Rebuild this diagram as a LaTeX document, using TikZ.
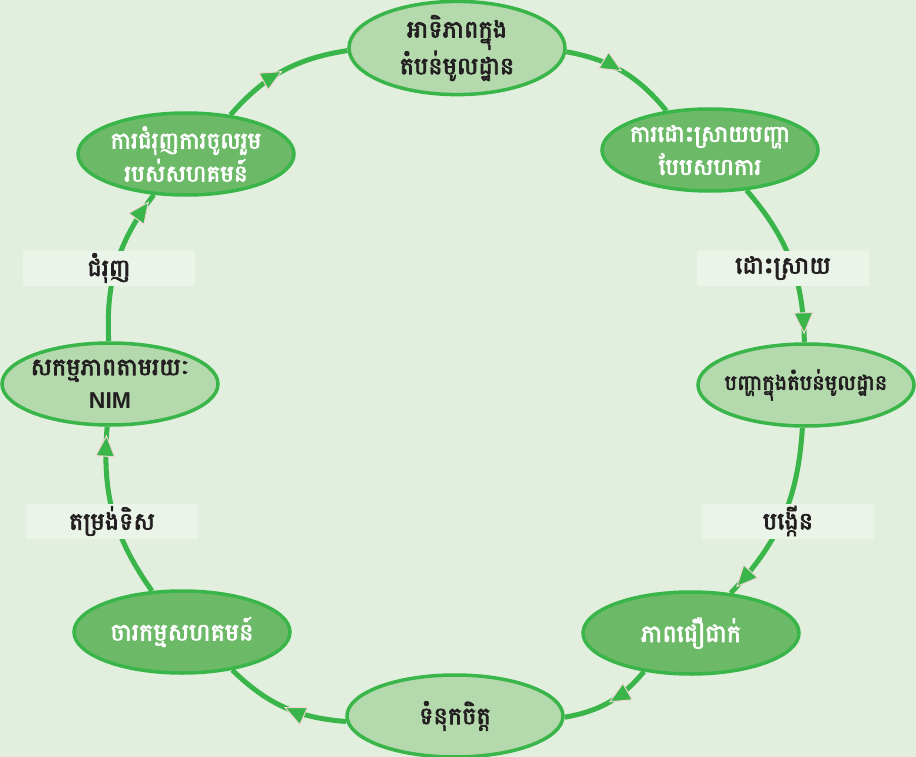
\documentclass[tikz,border=0pt]{standalone}
\usepackage{fontspec}
\newfontfamily\kh[Script=Khmer,FakeBold=3]{Battambang}
\newfontfamily\lsans{Liberation Sans}
\usetikzlibrary{arrows.meta,decorations.markings,shapes.geometric}
\definecolor{bg}{HTML}{E2EFDE}
\definecolor{ring}{HTML}{3AB54A}
\definecolor{lightfill}{HTML}{B3D9AC}
\definecolor{midfill}{HTML}{6CBA68}
\definecolor{labelbg}{HTML}{EBF4E8}
\definecolor{txt}{HTML}{231F20}
\definecolor{arrowedge}{HTML}{F0D6D2}
\pgfdeclarelayer{ringlayer}
\pgfsetlayers{ringlayer,main}
\begin{document}
\begin{tikzpicture}[x=1pt,y=-1pt,
  stage/.style={ellipse, draw=ring, line width=3.5pt, minimum width=216pt, minimum height=82pt,
    inner xsep=-60pt, inner ysep=0pt, align=center,
    font=\kh\fontsize{24}{33}\selectfont},
  lightstage/.style={stage, fill=lightfill, text=txt},
  darkstage/.style={stage, fill=midfill, text=white},
  tag/.style={fill=labelbg, minimum width=172pt, minimum height=35pt, inner sep=0pt, text=txt,
    font=\kh\fontsize{24}{26}\selectfont},
  flow/.style={draw=ring, line width=5pt, postaction={decorate},
    decoration={markings, mark=at position #1 with {\arrow{Triangle[length=22pt,width=20pt,line width=1pt,color=arrowedge,fill=ring]}}}},
  flow/.default=0.5
]
\begin{pgfonlayer}{ringlayer}
\fill[bg] (0,0) rectangle (916,757);
\end{pgfonlayer}
\path[use as bounding box] (0,0) rectangle (916,757);

\node[lightstage] (n1) at (457,48) {អាទិភាពក្នុង\\តំបន់មូលដ្ឋាន};
\node[darkstage, font=\kh\fontsize{23}{33}\selectfont] (n2) at (710,150) {ការដោះស្រាយបញ្ហា\\បែបសហការ};
\node[lightstage, font=\kh\fontsize{21}{33}\selectfont] (n3) at (806,385) {បញ្ហាក្នុងតំបន់មូលដ្ឋាន};
\node[darkstage] (n4) at (691,633) {ភាពជឿជាក់};
\node[lightstage] (n5) at (455,716) {ទំនុកចិត្ត};
\node[darkstage] (n6) at (182,632) {ចារកម្មសហគមន៍};
\node[lightstage] (n7) at (110,384) {សកម្មភាពតាមរយៈ\\{\lsans\bfseries\fontsize{23}{33}\selectfont NIM}};
\node[darkstage, font=\kh\fontsize{23}{33}\selectfont] (n8) at (186,154) {ការជំរុញការចូលរួម\\របស់សហគមន៍};

\begin{pgfonlayer}{ringlayer}
\draw[flow] (n1) to[bend left=20] (n2);
\draw[flow=-8pt] (n2) to[bend left=20] (n3);
\draw[flow=-8pt] (n3) to[bend left=20] (n4);
\draw[flow] (n4) to[bend left=20] (n5);
\draw[flow] (n5) to[bend left=20] (n6);
\draw[flow=-8pt] (n6) to[bend left=20] (n7);
\draw[flow=-8pt] (n7) to[bend left=20] (n8);
\draw[flow] (n8) to[bend left=20] (n1);
\end{pgfonlayer}

\node[tag] (t1) at (783,268) {ដោះស្រាយ};
\node[tag] (t2) at (788,521) {បង្កើន};
\node[tag] (t3) at (109,268) {ជំរុញ};
\node[tag] (t4) at (112,521) {តម្រង់ទិស};
\end{tikzpicture}
\end{document}
